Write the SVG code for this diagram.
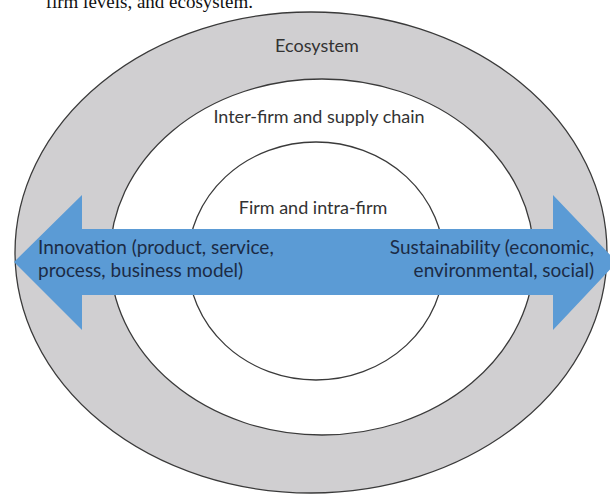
<svg xmlns="http://www.w3.org/2000/svg" width="610" height="495" viewBox="0 0 610 495">
<style>
.ring{stroke:#3a3a3a;stroke-width:1.3}
.lbl{font-family:Lato,"Liberation Sans",sans-serif;font-size:18px;fill:#333333;text-anchor:middle}
.arr{font-family:Lato,"Liberation Sans",sans-serif;font-size:19px;fill:#1c2b45}
.cap{font-family:"Liberation Serif","Times New Roman",serif;font-size:19px;fill:#111111}
</style>
<rect width="610" height="495" fill="#ffffff"/>
<text class="cap" x="253" y="8" text-anchor="end">firm levels, and ecosystem.</text>
<g id="ecosystem">
<ellipse class="ring" cx="311" cy="252.5" rx="296" ry="240.5" fill="#d0cfd1"/>
<text class="lbl" x="317" y="52">Ecosystem</text>
</g>
<g id="inter-firm">
<ellipse class="ring" cx="322" cy="257" rx="212" ry="178" fill="#ffffff"/>
<text class="lbl" x="319" y="123">Inter-firm and supply chain</text>
</g>
<g id="firm">
<ellipse class="ring" cx="316" cy="261" rx="128" ry="119" fill="#ffffff"/>
<text class="lbl" x="313" y="214">Firm and intra-firm</text>
</g>
<g id="connectors">
<polygon id="arrow" points="14,262 82,195 82,229 553,229 553,195 617,262 553,330 553,295 82,295 82,330" fill="#5b9bd5"/>
</g>
<g id="innovation">
<text class="arr" x="38" y="254">Innovation (product, service,</text>
<text class="arr" x="38" y="277">process, business model)</text>
</g>
<g id="sustainability">
<text class="arr" x="594" y="254" text-anchor="end">Sustainability (economic,</text>
<text class="arr" x="594" y="277" text-anchor="end">environmental, social)</text>
</g>
</svg>
